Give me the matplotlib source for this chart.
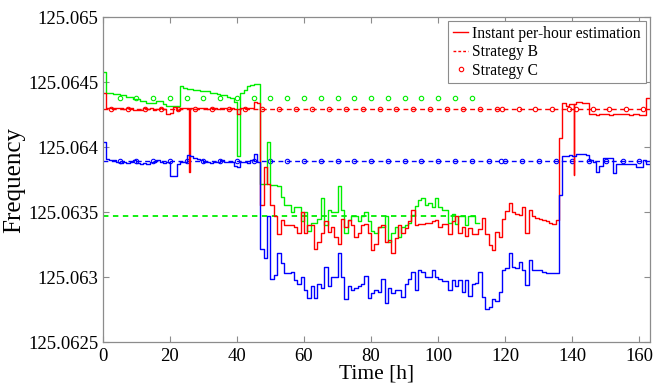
import numpy as np
import matplotlib
matplotlib.use("Agg")
import matplotlib.pyplot as plt
from matplotlib.lines import Line2D
from matplotlib.ticker import FuncFormatter

plt.rcParams["font.family"] = ["Liberation Serif", "DejaVu Serif"]

# frequencies kept as offsets above 125.06, in units of 1e-4
BASE = 125.06
UNIT = 1e-4

# instant per-hour estimation, one value per hour (t = 0, 1, 2, ...)
red_off = [
    44.2, 43.05, 43.0, 43.0, 43.05, 43.0, 42.95, 43.0, 43.0, 42.85,
    42.85, 42.9, 43.0, 42.95, 43.0, 42.9, 42.95, 43.0, 42.95, 42.6,
    42.65, 43.1, 42.9, 43.05, 43.0, 43.05, 43.0, 42.95, 43.0, 43.05,
    43.0, 42.95, 43.0, 43.0, 42.95, 43.0, 43.0, 42.95, 43.0, 42.95,
    42.6, 43.0, 43.05, 43.0, 43.0, 43.5, 43.4, 35.6, 38.5, 37.2,
    35.6, 34.7, 33.3, 34.4, 34.0, 34.0, 34.0, 33.9, 33.4, 35.05,
    33.4, 34.0, 34.0, 32.2, 32.75, 33.4, 34.3, 33.5, 33.9, 33.1,
    32.6, 34.5, 33.9, 34.4, 34.0, 33.1, 33.4, 34.0, 34.1, 33.4,
    32.1, 32.6, 33.9, 34.0, 32.75, 32.9, 31.9, 33.0, 34.0, 33.4,
    33.8, 34.3, 35.2, 34.0, 34.1, 34.1, 34.2, 34.2, 34.3, 34.4,
    33.9, 34.1, 34.1, 33.3, 34.3, 34.7, 33.4, 33.9, 33.2, 33.8,
    33.3, 33.3, 33.7, 34.6, 33.3, 32.5, 32.1, 33.5, 33.1, 34.5,
    35.1, 35.7, 35.0, 34.9, 34.8, 35.4, 33.4, 35.2, 34.7, 34.6,
    34.5, 34.4, 34.3, 34.2, 34.1, 34.4, 40.7, 43.4, 43.2, 43.3,
    43.3, 43.5, 43.5, 43.4, 43.4, 42.6, 42.6, 42.5, 42.6, 42.55,
    42.6, 42.5, 42.6, 42.6, 42.55, 42.6, 42.6, 42.5, 42.55, 42.6,
    42.5, 42.45, 43.8,
]
green_off = [
    45.8, 44.2, 44.2, 44.1, 44.1, 44.0, 44.0, 43.9, 43.9, 43.7,
    43.7, 43.6, 43.6, 43.4, 43.4, 43.4, 43.6, 43.6, 43.3, 43.2,
    43.2, 43.2, 43.2, 44.7, 44.6, 44.5, 44.5, 44.4, 44.4, 44.3,
    44.3, 44.3, 44.2, 44.2, 44.1, 44.0, 44.0, 43.9, 43.8, 43.5,
    39.3, 44.2, 44.4, 44.7, 44.8, 44.9, 44.9, 37.2, 37.2, 40.4,
    37.1, 37.1, 37.0, 36.2, 35.6, 35.6, 35.0, 35.4, 35.4, 34.3,
    35.0, 33.6, 34.15, 34.15, 34.5, 36.1, 34.0, 35.2, 35.0, 35.0,
    37.0, 35.2, 33.4, 34.4, 34.7, 34.7, 34.3, 34.7, 35.0, 34.3,
    33.6, 33.4, 33.9, 33.9, 34.7, 32.75, 33.4, 33.9, 33.1, 33.9,
    34.0, 34.2, 34.8, 35.5, 35.95, 36.1, 35.6, 35.7, 35.4, 36.1,
    35.4, 35.2, 35.2, 34.15, 34.9, 34.1, 34.7, 34.7, 34.0, 34.7,
    34.7, 34.2,
]
blue_off = [
    40.4, 39.1, 39.0, 39.0, 38.9, 38.8, 38.9, 38.8, 38.9, 39.0,
    38.8, 38.7, 38.8, 38.7, 38.9, 38.9, 39.0, 38.9, 38.8, 38.9,
    37.8, 37.8, 38.7, 38.9, 38.9, 39.4, 39.3, 39.2, 39.1, 39.0,
    38.9, 38.9, 38.8, 38.9, 38.9, 39.0, 38.9, 38.9, 38.9, 38.6,
    38.5, 38.9, 38.9, 38.8, 39.0, 39.5, 38.9, 32.2, 31.5, 34.7,
    29.9, 30.2, 31.85, 31.1, 30.3, 30.3, 30.4, 29.8, 29.5, 30.05,
    29.0, 28.4, 29.3, 28.4, 29.5, 29.2, 30.8, 29.3, 30.0, 30.0,
    31.9, 30.0, 28.3, 29.3, 29.0, 29.2, 29.3, 29.5, 30.1, 28.4,
    28.8, 29.0, 28.9, 29.9, 28.0, 29.2, 28.8, 29.0, 29.0, 28.5,
    29.5, 29.9, 30.4, 29.0, 30.6, 30.4, 30.05, 30.05, 30.6, 30.05,
    29.9, 29.7, 29.7, 29.0, 29.8, 29.3, 29.8, 28.9, 29.8, 28.6,
    29.5, 29.6, 30.4, 28.5, 27.6, 27.7, 28.3, 28.2, 28.9, 30.6,
    30.7, 31.9, 30.8, 30.7, 31.2, 30.6, 29.4, 31.3, 30.6, 30.6,
    30.6, 30.4, 30.3, 30.3, 30.3, 30.3, 36.3, 39.3, 39.3, 39.4,
    39.35, 39.45, 39.45, 39.45, 39.4, 39.0, 38.9, 38.1, 38.6, 39.2,
    39.2, 39.2, 38.0, 38.7, 38.7, 38.7, 38.7, 38.7, 38.7, 38.5,
    38.5, 39.0, 38.7,
]
red_end = 163.0
green_end = 112.3
blue_end = 163.0

# short glitches in the red estimate
red_spike_t = [25.8, 140.5]
red_spike_v = [38.1, 37.9]

# strategy B (constant levels)
strat_b_red = 42.97
strat_b_blue = 38.95
strat_b_green = 34.74
strat_b_green_end = 112.0

# strategy C (markers)
strat_c_red = 42.97
strat_c_blue = 38.95
strat_c_green = 43.8
strat_c_red_t = [2.5, 7.5, 12.5, 17.5, 22.5, 27.5, 32.5, 37.5, 42.5, 47.5,
                 52.5, 57.5, 62.5, 67.5, 72.5, 77.5, 82.5, 87.5, 92.5, 97.5,
                 102.5, 107.5, 112.5, 117.5, 119, 124, 129, 134, 139, 141,
                 146, 151, 156, 161]
strat_c_blue_t = [5, 10, 15, 20, 25, 30, 35, 40, 45, 50, 55, 60, 65, 70, 75,
                  80, 85, 90, 95, 100, 105, 110, 115, 118.7, 120, 125, 130,
                  135, 140, 145, 150, 155, 160]
strat_c_green_t = [5, 10, 15, 20, 25, 30, 35, 40, 45, 50, 55, 60, 65, 70, 75,
                   80, 85, 90, 95, 100, 105, 110]


def freq(v):
    return BASE + np.asarray(v, dtype=float) * UNIT


def step_xy(vals, t_end, spike_t=(), spike_v=()):
    pts = [(float(i), v) for i, v in enumerate(vals)]
    for ts, vs in zip(spike_t, spike_v):
        pts.append((ts, vs))
        pts.append((ts + 0.08, vals[int(ts)]))
    pts.sort(key=lambda p: p[0])
    pts.append((t_end, vals[-1]))
    t = [p[0] for p in pts]
    v = [p[1] for p in pts]
    return t, freq(v)


RED = "#ff0000"
GREEN = "#00ee00"
BLUE = "#0000ff"
AX_GRAY = "#8c8c8c"

fig = plt.figure(figsize=(6.63, 3.89), dpi=100)
ax = fig.add_axes([0.155, 0.12, 0.8247, 0.8355])

# strategy B lines
ax.plot([0, red_end], freq([strat_b_red, strat_b_red]), color=RED, lw=1.0,
        dashes=(3.5, 2.5))
ax.plot([0, blue_end], freq([strat_b_blue, strat_b_blue]), color=BLUE, lw=1.0,
        dashes=(3.5, 2.5))
ax.plot([0, strat_b_green_end], freq([strat_b_green, strat_b_green]),
        color=GREEN, lw=1.3, dashes=(3, 2.5))

# strategy C markers
mk = dict(ls="none", marker="o", ms=3.2, mew=0.8, mfc="none")
ax.plot(strat_c_red_t, freq([strat_c_red] * len(strat_c_red_t)), mec=RED, **mk)
ax.plot(strat_c_blue_t, freq([strat_c_blue] * len(strat_c_blue_t)), mec=BLUE, **mk)
ax.plot(strat_c_green_t, freq([strat_c_green] * len(strat_c_green_t)), mec=GREEN, **mk)

# instant per-hour estimations
t, f = step_xy(green_off, green_end)
ax.step(t, f, where="post", color=GREEN, lw=1.0)
t, f = step_xy(red_off, red_end, red_spike_t, red_spike_v)
ax.step(t, f, where="post", color=RED, lw=1.0)
t, f = step_xy(blue_off, blue_end)
ax.step(t, f, where="post", color=BLUE, lw=1.0)

ax.set_xlim(0, 163)
ax.set_ylim(125.0625, 125.065)
ax.set_xticks([0, 20, 40, 60, 80, 100, 120, 140, 160])
ax.set_yticks([125.0625, 125.063, 125.0635, 125.064, 125.0645, 125.065])
ax.yaxis.set_major_formatter(FuncFormatter(lambda v, p: f"{v:.4f}".rstrip("0")))
ax.tick_params(direction="in", top=True, right=True, length=4, width=0.8,
               color=AX_GRAY, labelsize=13.5)
ax.tick_params(axis="x", pad=4)
ax.tick_params(axis="y", pad=3)
for s in ax.spines.values():
    s.set_color(AX_GRAY)
    s.set_linewidth(0.9)

ax.set_xlabel("Time [h]", fontsize=15.5, labelpad=0)
ax.set_ylabel("Frequency", fontsize=18, labelpad=2)

handles = [
    Line2D([], [], color=RED, lw=1.0),
    Line2D([], [], color=RED, lw=1.0, dashes=(2, 1.5)),
    Line2D([], [], color=RED, ls="none", marker="o", ms=3.2, mew=0.8, mfc="none"),
]
labels = ["Instant per-hour estimation", "Strategy B", "Strategy C"]
leg = ax.legend(handles, labels, loc="upper right", fontsize=11.2,
                fancybox=False, framealpha=1, edgecolor=AX_GRAY,
                borderaxespad=0.25, borderpad=0.3, labelspacing=0.15,
                handlelength=1.0, handletextpad=0.25)
leg.get_frame().set_linewidth(0.8)

fig.savefig("out.png", dpi=100)
